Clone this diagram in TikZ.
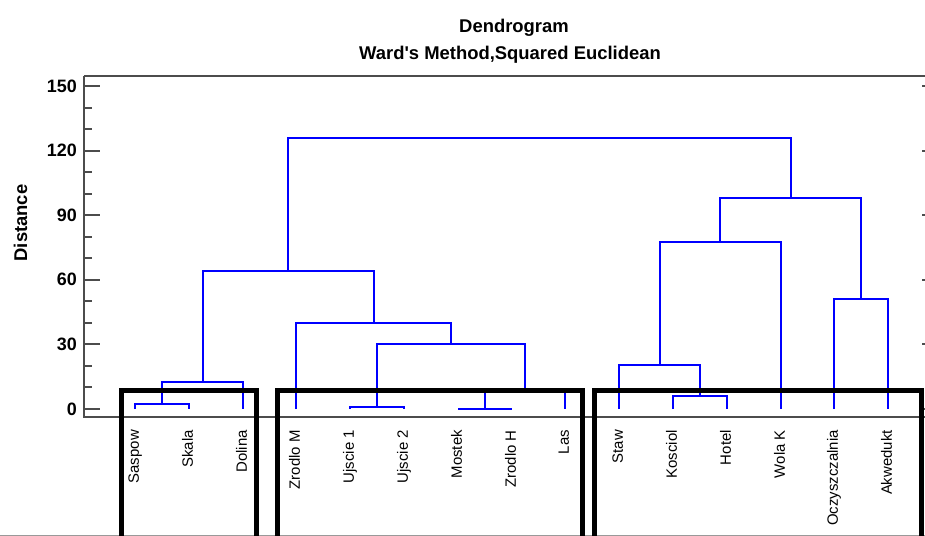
\documentclass[tikz,border=0pt]{standalone}
\usepackage{fontspec}
\setmainfont{Liberation Sans}
\begin{document}
\begin{tikzpicture}[x=1bp,y=-1bp,
  link/.style={draw=blue, line width=2bp},
  grp/.style={draw=black, line width=5bp, line join=miter},
  axisline/.style={draw=black!70, line width=2bp},
  leaf/.style={rotate=90, anchor=east, inner sep=0pt, text height=11pt, text depth=3pt, font=\fontsize{15}{18}\selectfont},
  ticklab/.style={anchor=east, inner sep=0pt, font=\bfseries\fontsize{18}{22}\selectfont},
  titlefont/.style={anchor=base, inner sep=0pt, font=\bfseries\fontsize{18.5}{22}\selectfont}
]
\useasboundingbox (0,0) rectangle (925,536);

% titles
\node[titlefont] (title1) at (514,33) {Dendrogram};
\node[titlefont] (title2) at (510,60) {Ward\textquotesingle s Method,Squared Euclidean};
\node[titlefont, rotate=90] (ylab) at (27,223) {Distance};

% frame and axes
\draw[axisline] (84,76) -- (925,76);
\draw[axisline] (84,76) -- (84,417) -- (925,417);
\draw[draw=black!40, line width=1bp] (0,535.5) -- (925,535.5);
\foreach \d in {0,10,...,150} {
  \draw[axisline] (84,{round(409-2.1533*\d)}) -- ++(8,0);
}
\foreach \d in {0,30,...,150} {
  \draw[axisline] (84,{round(409-2.1533*\d)}) -- ++(16,0);
  \draw[axisline] (922,{round(409-2.1533*\d)}) -- ++(3,0);
  \node[ticklab] (tk\d) at (77,{409-2.1533*\d}) {\d};
}

% leaves
\foreach \lab/\xx [count=\i from 0] in {Saspow/135,Skala/189,Dolina/243,Zrodlo M/296,Ujscie 1/350,Ujscie 2/404,Mostek/458,Zrodlo H/512,Las/565,Staw/619,Kosciol/673,Hotel/727,Wola K/781,Oczyszczalnia/834,Akwedukt/888} {
  \coordinate (L\i) at (\xx,409);
  \node[leaf] (t\i) at (\xx,430) {\lab};
}

% merges
\coordinate (mA) at (162,404);
\coordinate (mB) at (203,382);
\coordinate (mC) at (377,407);
\coordinate (mD) at (485,409);
\coordinate (mE) at (525,389);
\coordinate (mF) at (451,344);
\coordinate (mG) at (374,323);
\coordinate (mH) at (288,271);
\coordinate (mI) at (700,396);
\coordinate (mJ) at (660,365);
\coordinate (mK) at (720,242);
\coordinate (mL) at (861,299);
\coordinate (mM) at (791,198);
\coordinate (mN) at (540,138);

\draw[link] (L0) |- (mA) -| (L1);
\draw[link] (mA) |- (mB) -| (L2);
\draw[link] (L4) |- (mC) -| (L5);
\draw[link] (L6) |- (mD) -| (L7);
\draw[link] (mD) |- (mE) -| (L8);
\draw[link] (mC) |- (mF) -| (mE);
\draw[link] (L3) |- (mG) -| (mF);
\draw[link] (mB) |- (mH) -| (mG);
\draw[link] (L10) |- (mI) -| (L11);
\draw[link] (L9) |- (mJ) -| (mI);
\draw[link] (mJ) |- (mK) -| (L12);
\draw[link] (L13) |- (mL) -| (L14);
\draw[link] (mK) |- (mM) -| (mL);
\draw[link] (mH) |- (mN) -| (mM);

% group boxes
\draw[grp] (121,545) -- (121,390.5) -- (256.5,390.5) -- (256.5,545);
\draw[grp] (277.5,545) -- (277.5,390.5) -- (582,390.5) -- (582,545);
\draw[grp] (594.5,545) -- (594.5,390.5) -- (921,390.5) -- (921,545);
\end{tikzpicture}
\end{document}
